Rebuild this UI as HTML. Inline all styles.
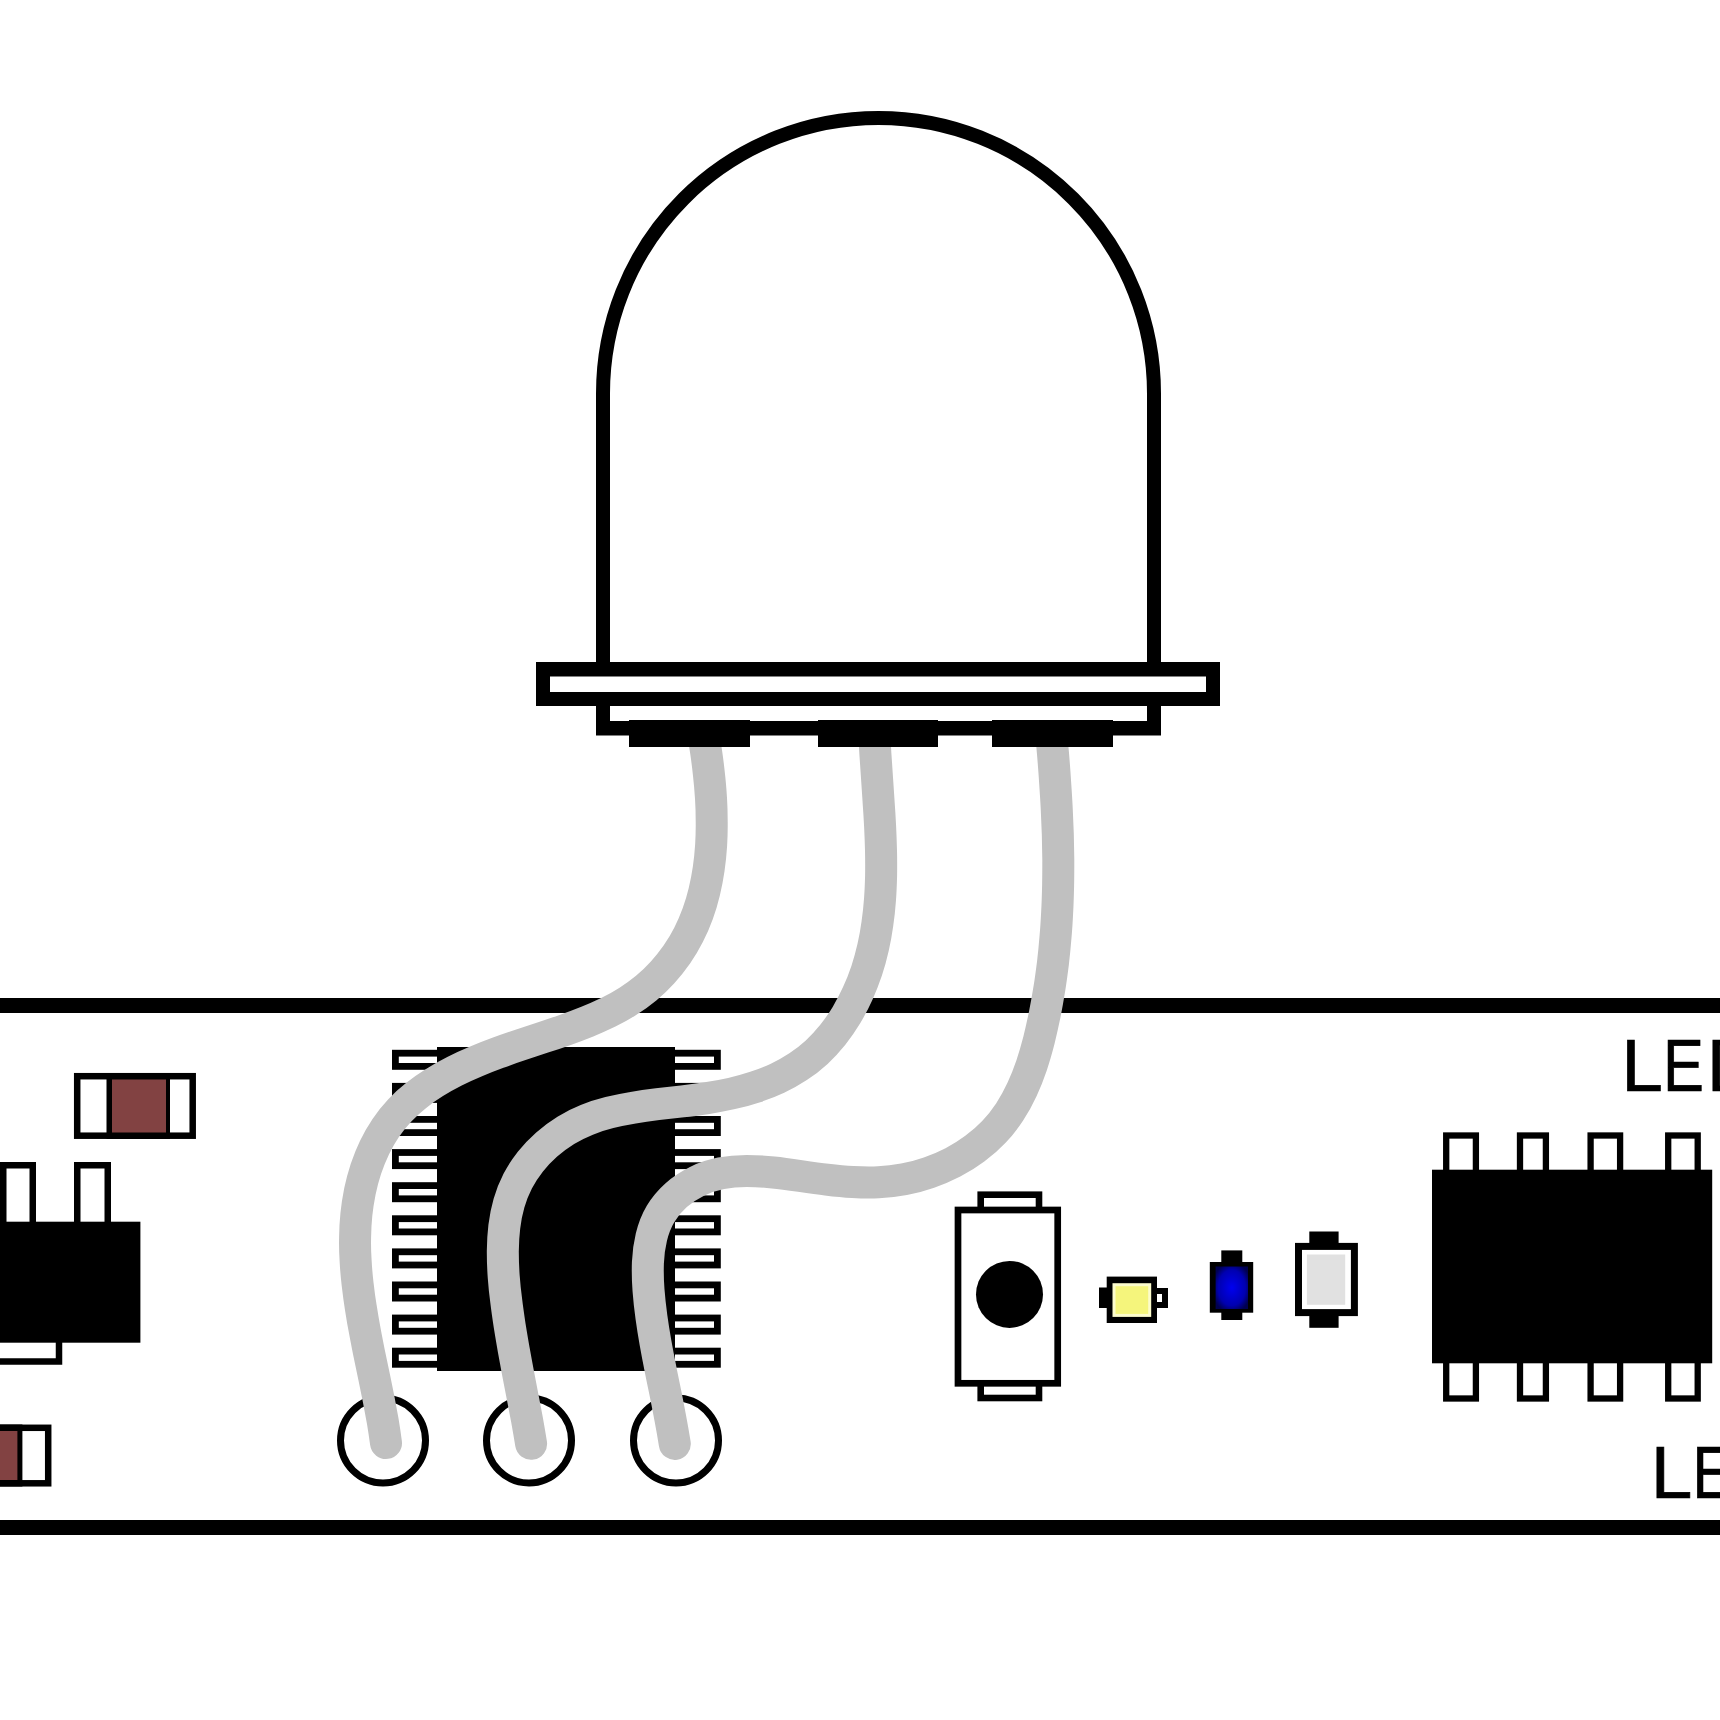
<!DOCTYPE html>
<html><head><meta charset="utf-8"><style>
html,body{margin:0;padding:0;background:#fff;width:1720px;height:1720px;overflow:hidden;font-family:"Liberation Sans",sans-serif;}
svg{position:absolute;left:0;top:0;display:block;}
</style></head><body>
<svg width="1720" height="1720" viewBox="0 0 1720 1720">
<rect x="0" y="998" width="1720" height="15" fill="#000"/>
<rect x="0" y="1520" width="1720" height="15" fill="#000"/>
<path d="M603.0 665 L603.0 393.5 A275.5 275.5 0 0 1 1154.0 393.5 L1154.0 665" fill="none" stroke="#000" stroke-width="14"/>
<rect x="77.2" y="1076.2" width="115.5" height="59.5" fill="#fff" stroke="#000" stroke-width="6.5"/><rect x="106.5" y="1073.0" width="63.5" height="66.0" fill="#000"/><rect x="112.0" y="1079.5" width="54.0" height="53.0" fill="#824242"/>
<rect x="-66.8" y="1427.8" width="115.0" height="55.5" fill="#fff" stroke="#000" stroke-width="6.5"/><rect x="-38.0" y="1424.5" width="60.4" height="62.0" fill="#000"/><rect x="-32.0" y="1431.0" width="49.4" height="49.0" fill="#824242"/>
<rect x="3.25" y="1165.25" width="29.5" height="60" fill="#fff" stroke="#000" stroke-width="6.5"/>
<rect x="77.25" y="1165.25" width="30.5" height="60" fill="#fff" stroke="#000" stroke-width="6.5"/>
<rect x="-10" y="1330" width="69" height="31.5" fill="#fff" stroke="#000" stroke-width="6.5"/>
<rect x="-5" y="1221.7" width="145.4" height="121" fill="#000"/>
<circle cx="383" cy="1440.5" r="42.5" fill="none" stroke="#000" stroke-width="7"/>
<circle cx="529" cy="1440.5" r="42.5" fill="none" stroke="#000" stroke-width="7"/>
<circle cx="676" cy="1440.5" r="42.5" fill="none" stroke="#000" stroke-width="7"/>
<rect x="395.4" y="1053.2" width="60" height="13.2" fill="#fff" stroke="#000" stroke-width="6.8"/>
<rect x="660" y="1053.2" width="57.4" height="13.2" fill="#fff" stroke="#000" stroke-width="6.8"/>
<rect x="395.4" y="1086.3" width="60" height="13.2" fill="#fff" stroke="#000" stroke-width="6.8"/>
<rect x="660" y="1086.3" width="57.4" height="13.2" fill="#fff" stroke="#000" stroke-width="6.8"/>
<rect x="395.4" y="1119.4" width="60" height="13.2" fill="#fff" stroke="#000" stroke-width="6.8"/>
<rect x="660" y="1119.4" width="57.4" height="13.2" fill="#fff" stroke="#000" stroke-width="6.8"/>
<rect x="395.4" y="1152.5" width="60" height="13.2" fill="#fff" stroke="#000" stroke-width="6.8"/>
<rect x="660" y="1152.5" width="57.4" height="13.2" fill="#fff" stroke="#000" stroke-width="6.8"/>
<rect x="395.4" y="1185.6" width="60" height="13.2" fill="#fff" stroke="#000" stroke-width="6.8"/>
<rect x="660" y="1185.6" width="57.4" height="13.2" fill="#fff" stroke="#000" stroke-width="6.8"/>
<rect x="395.4" y="1218.7" width="60" height="13.2" fill="#fff" stroke="#000" stroke-width="6.8"/>
<rect x="660" y="1218.7" width="57.4" height="13.2" fill="#fff" stroke="#000" stroke-width="6.8"/>
<rect x="395.4" y="1251.8" width="60" height="13.2" fill="#fff" stroke="#000" stroke-width="6.8"/>
<rect x="660" y="1251.8" width="57.4" height="13.2" fill="#fff" stroke="#000" stroke-width="6.8"/>
<rect x="395.4" y="1284.9" width="60" height="13.2" fill="#fff" stroke="#000" stroke-width="6.8"/>
<rect x="660" y="1284.9" width="57.4" height="13.2" fill="#fff" stroke="#000" stroke-width="6.8"/>
<rect x="395.4" y="1318.0" width="60" height="13.2" fill="#fff" stroke="#000" stroke-width="6.8"/>
<rect x="660" y="1318.0" width="57.4" height="13.2" fill="#fff" stroke="#000" stroke-width="6.8"/>
<rect x="395.4" y="1351.1" width="60" height="13.2" fill="#fff" stroke="#000" stroke-width="6.8"/>
<rect x="660" y="1351.1" width="57.4" height="13.2" fill="#fff" stroke="#000" stroke-width="6.8"/>
<rect x="437" y="1047" width="238" height="324" fill="#000"/>
<rect x="980.7" y="1194.7" width="58.3" height="25" fill="#fff" stroke="#000" stroke-width="6.6"/>
<rect x="980.7" y="1373" width="58.3" height="25" fill="#fff" stroke="#000" stroke-width="6.6"/>
<rect x="958" y="1210" width="99.7" height="173.3" fill="#fff" stroke="#000" stroke-width="6.7"/>
<circle cx="1009.5" cy="1294.4" r="33.5" fill="#000"/>
<rect x="1099" y="1287.5" width="10" height="20.5" fill="#000"/>
<rect x="1150" y="1291" width="15" height="14" fill="#fff" stroke="#000" stroke-width="6"/>
<rect x="1106.7" y="1276.6" width="50.3" height="46.4" fill="#000"/>
<rect x="1112.5" y="1283.2" width="38.7" height="33.7" fill="#fcfccc"/>
<rect x="1115.5" y="1286.2" width="32.7" height="27.7" fill="#f5f57c"/>
<defs><radialGradient id="bg" cx="50%" cy="50%" r="60%"><stop offset="0" stop-color="#0000f0"/><stop offset="0.7" stop-color="#0000b0"/><stop offset="1" stop-color="#000050"/></radialGradient></defs>
<rect x="1221.3" y="1250.4" width="21" height="69.6" fill="#000"/>
<rect x="1209.8" y="1262" width="43.4" height="50.7" fill="#000"/>
<rect x="1215.6" y="1266.5" width="32.4" height="42.5" fill="url(#bg)"/>
<rect x="1309.3" y="1231.5" width="29.3" height="96.3" fill="#000"/>
<rect x="1298.5" y="1246.4" width="55.9" height="66.2" fill="#fff" stroke="#000" stroke-width="7"/>
<rect x="1306.9" y="1254.5" width="38.3" height="50.3" fill="#e1e1e1"/>
<rect x="1446.2" y="1135.5" width="29.7" height="45" fill="#fff" stroke="#000" stroke-width="6.3"/>
<rect x="1446.2" y="1352" width="29.7" height="46.5" fill="#fff" stroke="#000" stroke-width="6.3"/>
<rect x="1520.0" y="1135.5" width="25.9" height="45" fill="#fff" stroke="#000" stroke-width="6.3"/>
<rect x="1520.0" y="1352" width="25.9" height="46.5" fill="#fff" stroke="#000" stroke-width="6.3"/>
<rect x="1590.6" y="1135.5" width="29.5" height="45" fill="#fff" stroke="#000" stroke-width="6.3"/>
<rect x="1590.6" y="1352" width="29.5" height="46.5" fill="#fff" stroke="#000" stroke-width="6.3"/>
<rect x="1668.2" y="1135.5" width="29.5" height="45" fill="#fff" stroke="#000" stroke-width="6.3"/>
<rect x="1668.2" y="1352" width="29.5" height="46.5" fill="#fff" stroke="#000" stroke-width="6.3"/>
<rect x="1432" y="1169.7" width="280.2" height="193.6" fill="#000"/>
<path d="M702.7 730.9C703.9 737.9 705.1 745.1 706.2 752.5C707.3 759.9 708.2 767.4 709.0 775.0C709.9 782.7 710.5 790.4 711.0 798.2C711.5 806.0 711.7 813.9 711.7 821.8C711.8 829.7 711.6 837.5 711.1 845.4C710.6 853.3 709.8 861.1 708.7 868.8C707.6 876.5 706.1 884.2 704.3 891.7C702.5 899.2 700.3 906.6 697.7 913.8C695.1 921.0 692.1 928.0 688.6 934.8C685.2 941.6 681.2 948.2 676.9 954.4C672.5 960.7 667.8 966.7 662.6 972.3C657.5 977.9 652.0 983.2 646.3 988.0C640.5 992.8 634.4 997.2 628.0 1001.2C621.7 1005.2 615.1 1008.9 608.3 1012.3C601.5 1015.6 594.5 1018.7 587.3 1021.6C580.2 1024.5 572.9 1027.2 565.5 1029.8C558.1 1032.4 550.7 1034.9 543.1 1037.4C535.6 1039.9 528.0 1042.4 520.5 1044.9C512.9 1047.4 505.4 1050.0 497.9 1052.8C490.5 1055.5 483.1 1058.4 475.8 1061.5C468.5 1064.5 461.4 1067.8 454.5 1071.3C447.6 1074.8 440.9 1078.5 434.5 1082.5C428.0 1086.5 421.9 1090.8 416.1 1095.5C410.2 1100.1 404.8 1105.1 399.7 1110.5C394.6 1115.9 390.0 1121.7 385.8 1127.9C381.6 1134.1 377.8 1140.7 374.5 1147.6C371.2 1154.4 368.4 1161.6 365.9 1168.9C363.5 1176.3 361.5 1183.8 359.9 1191.3C358.4 1198.9 357.2 1206.5 356.4 1214.1C355.6 1221.8 355.2 1229.5 355.1 1237.3C354.9 1245.0 355.1 1252.8 355.6 1260.6C356.0 1268.4 356.7 1276.2 357.6 1284.0C358.5 1291.9 359.5 1299.7 360.8 1307.5C362.0 1315.3 363.3 1323.1 364.8 1330.8C366.2 1338.6 367.8 1346.3 369.3 1354.0C370.9 1361.7 372.5 1369.4 374.1 1376.9C375.6 1384.5 377.2 1392.0 378.7 1399.5C380.1 1406.9 381.5 1414.3 382.8 1421.5C384.0 1428.8 385.1 1436.0 386.0 1443.0" fill="none" stroke="#c0c0c0" stroke-width="32" stroke-linecap="round" stroke-linejoin="round"/>
<path d="M874.2 730.5C874.5 738.2 874.9 746.0 875.4 753.9C875.9 761.8 876.4 769.7 877.0 777.7C877.5 785.7 878.1 793.8 878.6 801.9C879.2 810.0 879.7 818.1 880.1 826.2C880.5 834.4 880.8 842.5 881.0 850.7C881.2 858.9 881.2 867.0 881.1 875.2C880.9 883.3 880.6 891.4 880.0 899.5C879.4 907.6 878.6 915.6 877.4 923.6C876.3 931.6 874.9 939.5 873.1 947.3C871.3 955.2 869.2 962.9 866.7 970.6C864.1 978.3 861.2 985.9 857.8 993.3C854.5 1000.7 850.7 1007.9 846.6 1014.8C842.4 1021.8 837.8 1028.4 832.8 1034.7C827.8 1040.9 822.5 1046.8 816.7 1052.2C810.9 1057.5 804.7 1062.4 798.1 1066.7C791.6 1071.0 784.7 1074.9 777.5 1078.2C770.3 1081.6 762.8 1084.5 755.2 1087.0C747.5 1089.6 739.6 1091.7 731.6 1093.5C723.5 1095.3 715.4 1096.8 707.2 1098.1C698.9 1099.3 690.7 1100.4 682.4 1101.3C674.1 1102.3 665.8 1103.2 657.6 1104.2C649.3 1105.2 641.2 1106.3 633.1 1107.7C625.1 1109.0 617.2 1110.6 609.4 1112.6C601.7 1114.5 594.1 1116.9 586.8 1119.9C579.5 1122.8 572.5 1126.3 565.8 1130.4C559.0 1134.6 552.7 1139.3 546.7 1144.5C540.8 1149.7 535.4 1155.4 530.5 1161.5C525.6 1167.7 521.3 1174.3 517.7 1181.2C514.1 1188.2 511.2 1195.5 509.0 1203.1C506.8 1210.7 505.3 1218.6 504.3 1226.7C503.3 1234.8 502.9 1243.0 502.8 1251.4C502.8 1259.7 503.1 1268.1 503.7 1276.5C504.3 1284.9 505.2 1293.3 506.3 1301.5C507.3 1309.8 508.5 1317.9 509.7 1325.9C511.0 1333.9 512.3 1341.8 513.7 1349.6C515.1 1357.4 516.6 1365.2 518.0 1373.0C519.5 1380.7 521.0 1388.5 522.5 1396.3C524.0 1404.1 525.5 1411.9 527.0 1419.8C528.4 1427.7 529.8 1435.7 531.1 1443.8" fill="none" stroke="#c0c0c0" stroke-width="32" stroke-linecap="round" stroke-linejoin="round"/>
<path d="M1050.9 729.8C1051.7 738.6 1052.5 747.3 1053.2 756.0C1053.9 764.7 1054.6 773.4 1055.1 782.1C1055.7 790.8 1056.3 799.5 1056.7 808.1C1057.1 816.8 1057.5 825.4 1057.8 834.0C1058.0 842.6 1058.2 851.2 1058.3 859.8C1058.3 868.4 1058.3 877.0 1058.1 885.6C1057.9 894.2 1057.7 902.8 1057.2 911.3C1056.8 919.9 1056.3 928.5 1055.5 937.0C1054.8 945.6 1054.0 954.2 1053.0 962.7C1051.9 971.3 1050.8 979.9 1049.4 988.4C1048.0 997.0 1046.5 1005.6 1044.8 1014.2C1043.0 1022.8 1041.1 1031.4 1039.0 1040.0C1036.8 1048.5 1034.4 1057.0 1031.6 1065.3C1028.8 1073.6 1025.6 1081.7 1022.0 1089.5C1018.4 1097.3 1014.3 1104.8 1009.7 1111.9C1005.0 1119.0 999.8 1125.7 994.0 1131.8C988.2 1138.0 981.7 1143.6 974.8 1148.7C968.0 1153.8 960.6 1158.4 952.9 1162.4C945.2 1166.4 937.2 1169.8 929.0 1172.6C920.8 1175.5 912.4 1177.7 904.0 1179.3C895.5 1180.9 887.0 1181.9 878.5 1182.3C870.0 1182.7 861.4 1182.5 852.8 1182.0C844.2 1181.6 835.5 1180.7 826.7 1179.6C818.0 1178.6 809.1 1177.3 800.2 1176.0C791.3 1174.7 782.3 1173.4 773.3 1172.5C764.4 1171.5 755.5 1170.9 746.7 1170.9C738.0 1170.9 729.4 1171.6 721.0 1173.3C712.7 1174.9 704.6 1177.6 697.0 1181.3C689.4 1185.0 682.4 1189.6 676.2 1195.1C670.0 1200.6 664.7 1206.9 660.5 1213.9C656.3 1221.0 653.4 1228.7 651.4 1237.0C649.4 1245.2 648.3 1253.9 647.9 1262.8C647.6 1271.7 647.8 1280.9 648.5 1290.0C649.2 1299.1 650.2 1308.1 651.4 1316.9C652.6 1325.6 654.0 1334.3 655.5 1342.8C657.0 1351.3 658.6 1359.7 660.3 1368.0C661.9 1376.4 663.7 1384.7 665.4 1393.0C667.1 1401.4 668.7 1409.7 670.3 1418.2C671.9 1426.6 673.4 1435.2 674.8 1443.9" fill="none" stroke="#c0c0c0" stroke-width="32" stroke-linecap="round" stroke-linejoin="round"/>
<rect x="536" y="662" width="684" height="44" fill="#000"/>
<rect x="596" y="692" width="565" height="43.5" fill="#000"/>
<rect x="550" y="676.5" width="656" height="15.5" fill="#fff"/>
<rect x="610" y="706" width="537" height="15" fill="#fff"/>
<rect x="629" y="720" width="121" height="27" fill="#000"/>
<rect x="818" y="720" width="120" height="27" fill="#000"/>
<rect x="992" y="720" width="121" height="27" fill="#000"/>
<text x="0" y="1090.8" transform="matrix(1.000 0 0 1 1621.2 0)" font-family="Liberation Sans, sans-serif" font-size="74.8" fill="#000" stroke="#000" stroke-width="0.7">L</text><text x="0" y="1090.8" transform="matrix(0.820 0 0 1 1663.1 0)" font-family="Liberation Sans, sans-serif" font-size="74.8" fill="#000" stroke="#000" stroke-width="0.7">E</text><text x="0" y="1090.8" transform="matrix(1.000 0 0 1 1706.7 0)" font-family="Liberation Sans, sans-serif" font-size="74.8" fill="#000" stroke="#000" stroke-width="0.7">D</text>
<text x="0" y="1498.2" transform="matrix(1.000 0 0 1 1650.7 0)" font-family="Liberation Sans, sans-serif" font-size="74.8" fill="#000" stroke="#000" stroke-width="0.7">L</text><text x="0" y="1498.2" transform="matrix(0.820 0 0 1 1692.3 0)" font-family="Liberation Sans, sans-serif" font-size="74.8" fill="#000" stroke="#000" stroke-width="0.7">E</text>
</svg>
</body></html>
